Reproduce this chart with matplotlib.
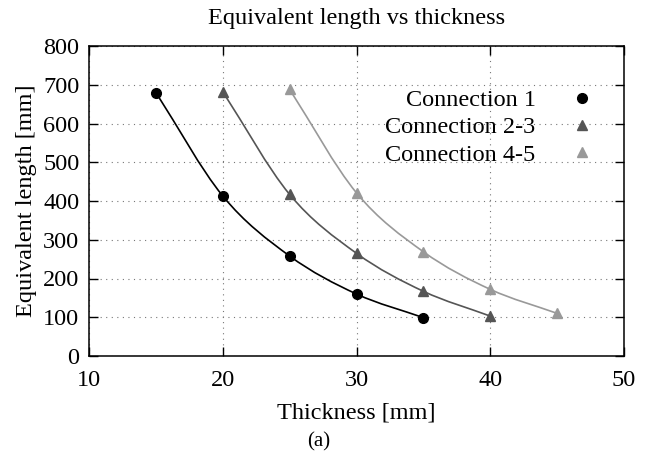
import numpy as np
import matplotlib
matplotlib.use("Agg")
import matplotlib.pyplot as plt
from matplotlib.path import Path
from matplotlib.patches import PathPatch

plt.rcParams['font.family'] = ['Liberation Serif', 'DejaVu Serif']

# Data
thick_c1 = [15, 20, 25, 30, 35]
len_c1 = [680, 413, 258, 160, 99]
thick_c23 = [20, 25, 30, 35, 40]
len_c23 = [682, 417, 265, 167, 103]
thick_c45 = [25, 30, 35, 40, 45]
len_c45 = [688, 421, 269, 172, 110]

labels = ["Connection 1", "Connection 2-3", "Connection 4-5"]
colors = ["#000000", "#555555", "#999999"]
markers = ["o", "^", "^"]
xticks = [10, 20, 30, 40, 50]
yticks = [0, 100, 200, 300, 400, 500, 600, 700, 800]

FS = 17.5

W, H = 651, 451
fig = plt.figure(figsize=(W / 100, H / 100), dpi=100)
ax = fig.add_axes([89 / W, 1 - 356 / H, (624 - 89) / W, (356 - 46) / H])


def smooth_path(x, y):
    x = np.asarray(x, float)
    y = np.asarray(y, float)
    n = len(x)
    # Catmull-Rom tangents converted to cubic Bezier segments
    mx = np.zeros(n)
    my = np.zeros(n)
    for i in range(n):
        if i == 0:
            mx[i], my[i] = x[1] - x[0], y[1] - y[0]
        elif i == n - 1:
            mx[i], my[i] = x[-1] - x[-2], y[-1] - y[-2]
        else:
            mx[i], my[i] = (x[i + 1] - x[i - 1]) / 2, (y[i + 1] - y[i - 1]) / 2
    verts = [(x[0], y[0])]
    codes = [Path.MOVETO]
    for i in range(n - 1):
        verts += [(x[i] + mx[i] / 3, y[i] + my[i] / 3),
                  (x[i + 1] - mx[i + 1] / 3, y[i + 1] - my[i + 1] / 3),
                  (x[i + 1], y[i + 1])]
        codes += [Path.CURVE4] * 3
    return Path(verts, codes)


series = [(thick_c1, len_c1), (thick_c23, len_c23), (thick_c45, len_c45)]
for (xs, ys), lab, c, m in zip(series, labels, colors, markers):
    patch = PathPatch(smooth_path(xs, ys), facecolor='none', edgecolor=c,
                      lw=1.2, zorder=2)
    ax.add_patch(patch)
    ax.plot(xs, ys, linestyle='none', marker=m, color=c, markersize=7,
            label=lab, zorder=3)

ax.set_xlim(10, 50)
ax.set_ylim(0, 800)
ax.set_xticks(xticks)
ax.set_yticks(yticks)
ax.grid(True, linestyle=(0, (1, 4)), color='#777777', linewidth=0.8)
ax.tick_params(direction='in', top=True, right=True, length=6.5, width=1,
               labelsize=FS)
ax.tick_params(axis='x', pad=10)
ax.tick_params(axis='y', pad=7)
for s in ax.spines.values():
    s.set_linewidth(1.1)

ax.set_xlabel("Thickness [mm]", fontsize=FS, labelpad=8)
ax.set_ylabel("Equivalent length [mm]", fontsize=FS, labelpad=4)
ax.set_title("Equivalent length vs thickness", fontsize=FS, pad=16)

leg = ax.legend(loc='upper right', bbox_to_anchor=(594 / W, 1 - 89 / H),
                bbox_transform=fig.transFigure, frameon=False,
                markerfirst=False, fontsize=FS, handlelength=1.0,
                handletextpad=1.4, labelspacing=0.22, borderpad=0,
                borderaxespad=0)

fig.text(319 / W, 1 - 446 / H, "(a)", fontsize=15, ha='center',
         va='baseline')

fig.savefig("out.png", dpi=100)
